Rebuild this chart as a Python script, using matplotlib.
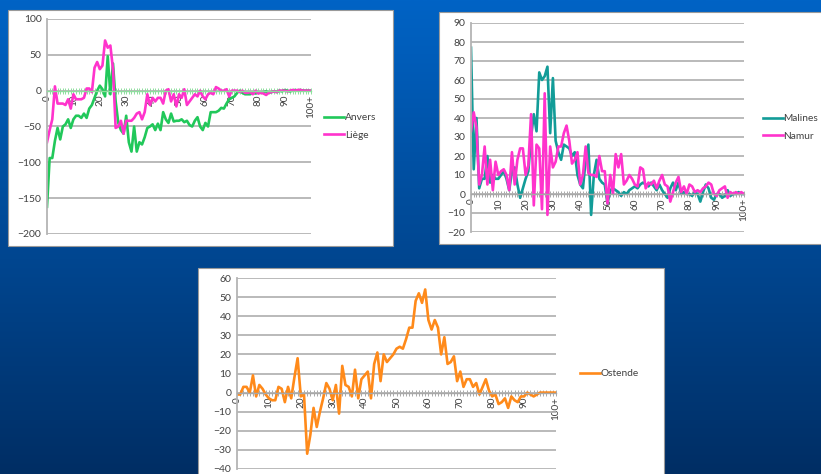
import numpy as np
import matplotlib
matplotlib.use("Agg")
import matplotlib.pyplot as plt
from matplotlib.patches import Rectangle

plt.rcParams['font.family'] = ['Lato', 'DejaVu Sans']

categories = [str(i) for i in range(100)] + ['100+']

anvers = [-162, -94, -94, -70, -52, -68, -50, -47, -40, -52,
          -40, -35, -35, -38, -32, -38, -25, -20, -10, 0,
          7, 2, -8, 48, -5, 38, -15, -45, -55, -60,
          -35, -72, -85, -50, -85, -72, -75, -65, -52, -50,
          -47, -55, -46, -55, -30, -40, -45, -32, -43, -42,
          -42, -40, -44, -42, -48, -50, -42, -37, -50, -55,
          -45, -50, -30, -30, -30, -28, -24, -25, -18, -12,
          -10, -8, -3, 0, -3, -5, -5, -5, -3, -4,
          -2, -3, -2, -1, -3, -2, -1, -2, 0, -1,
          1, 0, -1, 0, 1, 0, 1, 0, 0, 0, 0]

liege = [-72, -55, -40, 6, -18, -18, -18, -20, -12, -25,
         -5, -12, -12, -12, -10, 3, 3, -2, 32, 40,
         30, 35, 70, 60, 63, 30, -52, -50, -42, -60,
         -42, -42, -42, -38, -32, -30, -40, -30, -5, -20,
         -10, -15, -10, -10, -18, 0, 2, -15, -5, -22,
         -5, -10, 2, -20, -15, -10, -5, -8, 0, -8,
         -12, -5, -3, -5, 5, 3, 0, 0, 2, -8,
         0, 0, 0, -2, 0, -3, -3, -2, -5, 0,
         -4, -3, -4, -6, -3, -2, -1, -2, 0, 0,
         0, -1, 0, 1, 0, 1, 1, 0, 0, 0, 0]

malines = [77, 13, 40, 3, 8, 8, 20, 6, 10, 8,
           8, 10, 12, 8, 2, 12, 14, 5, -2, 3,
           8, 12, 30, 42, 33, 64, 60, 62, 67, 32,
           61, 28, 22, 18, 26, 25, 24, 20, 22, 10,
           5, 3, 18, 26, -11, 10, 18, 8, 6, 5,
           -5, 2, 3, 2, 1, -1, 1, 0, 2, 3,
           4, 3, 5, 6, 5, 4, 6, 4, 2, 5,
           2, 0, -2, 3, 6, 2, 6, 0, 1, 0,
           0, -1, 1, 0, -4, 1, 5, 3, -2, -3,
           0, 0, -2, -1, 2, -1, 0, 0, 1, 0, 0]

namur = [33, 43, 35, 5, 10, 25, 5, 18, 2, 17,
         10, 12, 13, 10, 2, 22, 5, 18, 24, 24,
         10, 15, 42, -6, 26, 24, -8, 53, -11, 25,
         14, 17, 25, 25, 32, 36, 28, 16, 18, 22,
         5, 10, 25, 11, 10, 10, 9, 20, 12, 12,
         -5, 10, 0, 21, 14, 21, 5, 7, 10, 8,
         5, 4, 14, 13, 3, 6, 5, 7, 3, 7,
         10, 5, 4, -4, 1, 6, 9, 1, 4, 0,
         5, 4, 1, 2, 1, 3, 4, 6, 5, 0,
         -1, 2, 3, 4, -2, 1, 0, 1, 0, 1, 0]

ostende = [-1, -1, 3, 3, 0, 9, -2, 4, 2, -1,
           -3, -4, -4, 3, 2, -5, 3, -3, 8, 18,
           -2, -1, -32, -22, -8, -18, -10, -3, 5, 2,
           -4, 4, -11, 14, 4, 3, -2, 12, -3, 7,
           9, 11, -3, 15, 21, 6, 20, 16, 18, 20,
           23, 24, 23, 28, 34, 34, 48, 52, 47, 54,
           38, 33, 38, 34, 20, 29, 15, 16, 19, 6,
           11, 3, 7, 7, 3, 5, -1, 3, 7, 1,
           -2, -1, -6, -5, -3, -8, -2, -4, -5, -2,
           -2, 0, -1, -2, -1, 0, 0, 0, 0, 0, 0]

W, H = 821, 474
fig = plt.figure(figsize=(W / 100, H / 100), dpi=100)

# blue gradient background
bg = fig.add_axes([0, 0, 1, 1], zorder=-10)
grad = np.linspace(0, 1, 256).reshape(-1, 1)
top = np.array([0, 99, 197]) / 255
bot = np.array([1, 46, 100]) / 255
img = top[None, None, :] * (1 - grad[:, :, None]) + bot[None, None, :] * grad[:, :, None]
bg.imshow(img, aspect='auto', extent=[0, 1, 0, 1])
bg.set_axis_off()


def px_rect(x0, y0, x1, y1):
    # pixel box (top-left origin) -> figure fraction [l, b, w, h]
    return [x0 / W, 1 - y1 / H, (x1 - x0) / W, (y1 - y0) / H]


def white_box(x0, y0, x1, y1):
    l, b, w, h = px_rect(x0, y0, x1, y1)
    fig.patches.append(Rectangle((l, b), w, h, transform=fig.transFigure,
                                 facecolor='white', edgecolor='#9a9a9a',
                                 linewidth=0.8, zorder=-5))


def panel(rect, ylim, ystep, series, tickcol, leg_xy):
    ax = fig.add_axes(px_rect(*rect))
    x = np.arange(len(categories))
    for vals, col, name in series:
        ax.plot(x, vals, color=col, lw=1.9, label=name, solid_joinstyle='round')
    ax.set_xlim(0, len(categories) - 1)
    ax.set_ylim(*ylim)
    ax.set_yticks(np.arange(ylim[0], ylim[1] + 1, ystep))
    ax.yaxis.grid(True, color='#b4b4b4', lw=1.3)
    ax.set_axisbelow(True)
    for s in ['top', 'right']:
        ax.spines[s].set_visible(False)
    ax.spines['left'].set_color('#b4b4b4')
    ax.spines['left'].set_linewidth(1.3)
    ax.spines['bottom'].set_position(('data', 0))
    ax.spines['bottom'].set_color(tickcol)
    ax.spines['bottom'].set_linewidth(1.0)
    ax.tick_params(axis='y', length=0, labelsize=7.5, labelcolor='#404040', pad=4)
    ax.set_xticks(x[::10])
    ax.set_xticklabels(categories[::10], rotation=90)
    ax.set_xticks(x, minor=True)
    ax.tick_params(axis='x', which='both', direction='inout', length=4,
                   color=tickcol, width=0.7, labelsize=7.2, labelcolor='#404040', pad=1)
    ax.set_facecolor('none')
    ax.legend(loc='center left', bbox_to_anchor=leg_xy, frameon=False,
              fontsize=7.3, handlelength=2.0, handletextpad=0.05,
              borderpad=0, labelspacing=0.8, labelcolor='#404040')
    return ax


white_box(8, 10, 393, 246)
white_box(439, 12, 830, 244)
white_box(198, 268, 664, 480)

panel((47, 19, 311, 234), (-200, 100), 50,
      [(anvers, '#21c85a', 'Anvers'), (liege, '#ff33cc', 'Liège')],
      '#8ede9e', (1.03, 0.5))
panel((471, 23, 744, 232), (-20, 90), 10,
      [(malines, '#129c98', 'Malines'), (namur, '#ff33cc', 'Namur')],
      '#a8a8a8', (1.05, 0.5))
panel((237, 278, 556, 469), (-40, 60), 10,
      [(ostende, '#ff8a1a', 'Ostende')],
      '#a8a8a8', (1.06, 0.5))

fig.savefig('out.png', dpi=100)
